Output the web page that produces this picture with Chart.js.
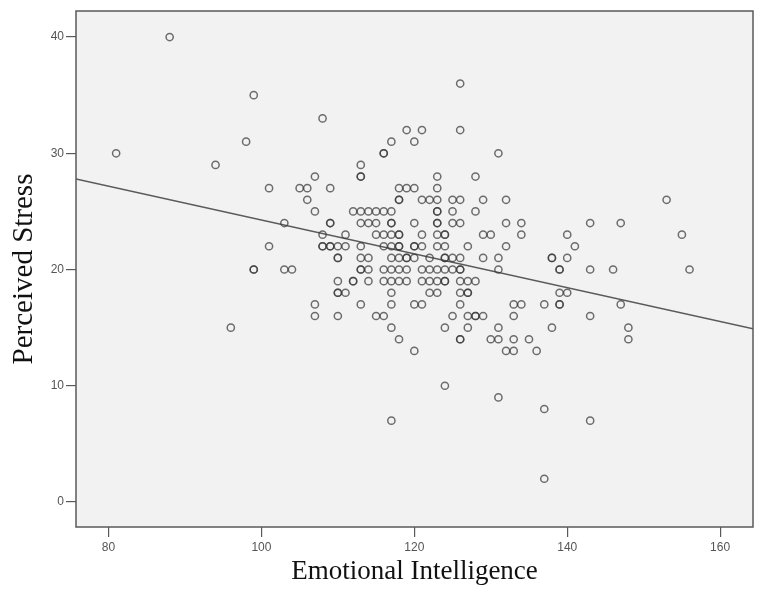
<!DOCTYPE html>
<html>
<head>
<meta charset="utf-8">
<title>Perceived Stress vs Emotional Intelligence</title>
<script src="https://cdn.jsdelivr.net/npm/chart.js@4.4.1/dist/chart.umd.min.js"></script>
<style>
  html, body { margin: 0; padding: 0; background: #fff; }
  #wrap { width: 765px; height: 595px; }
</style>
</head>
<body>
<div id="wrap"><canvas id="scatter" width="765" height="595"></canvas></div>
<script>
// stress levels and the emotional intelligence scores seen at each level
const stressLevels = [40, 36, 35, 33, 32, 31, 30, 29, 28, 27, 26, 25, 24, 23, 22, 21, 20, 19, 18, 17, 16, 15, 14, 13, 10, 9, 8, 7, 2];
const eiAtLevel = [
  [88],
  [126],
  [99],
  [108],
  [119, 121, 126],
  [98, 117, 120],
  [81, 116, 116, 131],
  [94, 113],
  [107, 113, 113, 123, 128],
  [101, 105, 106, 109, 118, 119, 120, 123],
  [106, 118, 118, 121, 122, 123, 125, 126, 129, 132, 153],
  [107, 112, 113, 114, 115, 116, 117, 123, 123, 125, 128],
  [103, 109, 109, 113, 114, 115, 117, 117, 120, 123, 123, 125, 126, 132, 134, 143, 147],
  [108, 111, 115, 116, 117, 118, 118, 121, 123, 124, 124, 129, 130, 134, 140, 155],
  [101, 108, 108, 109, 109, 110, 111, 113, 116, 117, 118, 118, 120, 120, 121, 123, 124, 127, 132, 141],
  [110, 110, 113, 114, 117, 118, 119, 119, 120, 122, 124, 124, 125, 126, 129, 131, 138, 138, 140],
  [99, 99, 103, 104, 113, 113, 114, 116, 117, 118, 119, 121, 122, 123, 124, 125, 126, 126, 131, 139, 139, 143, 146, 156],
  [110, 112, 112, 114, 116, 117, 118, 119, 121, 122, 123, 124, 124, 126, 127, 128],
  [110, 110, 111, 117, 122, 123, 126, 127, 127, 139, 140],
  [107, 113, 117, 120, 121, 126, 133, 134, 137, 139, 139, 147],
  [107, 110, 115, 116, 125, 127, 128, 128, 129, 133, 143],
  [96, 117, 124, 127, 131, 138, 148],
  [118, 126, 126, 130, 131, 133, 135, 148],
  [120, 132, 133, 136],
  [124],
  [131],
  [137],
  [117, 143],
  [137]
];

// tick labels and axis ranges
const xTicks = [80, 100, 120, 140, 160];
const yTicks = [0, 10, 20, 30, 40];
const xRange = [75.75, 164.3];
const yRange = [-2.15, 42.24];

// fit line
const fitIntercept = 38.8;
const fitSlope = -0.1455;

const points = [];
stressLevels.forEach((ps, i) => {
  eiAtLevel[i].forEach(ei => points.push({ x: ei, y: ps }));
});

const fitLine = xRange.map(x => ({ x: x, y: fitIntercept + fitSlope * x }));

const tickFont = { family: "'Liberation Sans Narrow', 'Liberation Sans', Arial, sans-serif", size: 12 };
const serif = "'Liberation Serif', 'Times New Roman', serif";

// grey plot panel + frame
const panel = {
  id: "panel",
  beforeDraw(chart) {
    const { ctx, chartArea: a } = chart;
    ctx.save();
    ctx.fillStyle = "#f2f2f2";
    ctx.fillRect(a.left, a.top, a.right - a.left, a.bottom - a.top);
    ctx.restore();
  },
  afterDraw(chart) {
    const { ctx, chartArea: a } = chart;
    ctx.save();
    ctx.strokeStyle = "#5a5a5a";
    ctx.lineWidth = 1.5;
    ctx.strokeRect(a.left, a.top, a.right - a.left, a.bottom - a.top);
    ctx.restore();
  }
};

new Chart(document.getElementById("scatter"), {
  type: "scatter",
  data: {
    datasets: [
      {
        label: "Perceived Stress",
        data: points,
        pointRadius: 3.6,
        pointBorderWidth: 1.5,
        borderColor: "rgba(55,55,55,0.72)",
        backgroundColor: "rgba(0,0,0,0)",
        pointHoverRadius: 3.6
      },
      {
        type: "line",
        label: "Fit",
        data: fitLine,
        borderColor: "#5a5a5a",
        borderWidth: 1.5,
        pointRadius: 0,
        fill: false
      }
    ]
  },
  plugins: [panel],
  options: {
    responsive: false,
    animation: false,
    devicePixelRatio: 1,
    layout: { padding: { left: 0, top: 11, right: 12, bottom: 0 } },
    plugins: {
      legend: { display: false },
      tooltip: { enabled: false }
    },
    scales: {
      x: {
        type: "linear",
        min: xRange[0],
        max: xRange[1],
        afterBuildTicks: s => { s.ticks = xTicks.map(v => ({ value: v })); },
        afterFit: s => { s.height = 68; },
        ticks: { color: "#555", font: tickFont, padding: 3, maxRotation: 0 },
        grid: { drawOnChartArea: false, drawTicks: true, tickLength: 10, color: "#5a5a5a", lineWidth: 1.2 },
        border: { display: false },
        title: {
          display: true,
          text: "Emotional Intelligence",
          color: "#111",
          font: { family: serif, size: 27 },
          padding: { top: 0, bottom: 7 }
        }
      },
      y: {
        type: "linear",
        min: yRange[0],
        max: yRange[1],
        afterBuildTicks: s => { s.ticks = yTicks.map(v => ({ value: v })); },
        afterFit: s => { s.width = 76; },
        ticks: { color: "#555", font: tickFont, padding: 2 },
        grid: { drawOnChartArea: false, drawTicks: true, tickLength: 10, color: "#5a5a5a", lineWidth: 1.2 },
        border: { display: false },
        title: {
          display: true,
          text: "Perceived Stress",
          color: "#111",
          font: { family: serif, size: 29 },
          padding: { top: 7, bottom: 0 }
        }
      }
    }
  }
});
</script>
</body>
</html>
